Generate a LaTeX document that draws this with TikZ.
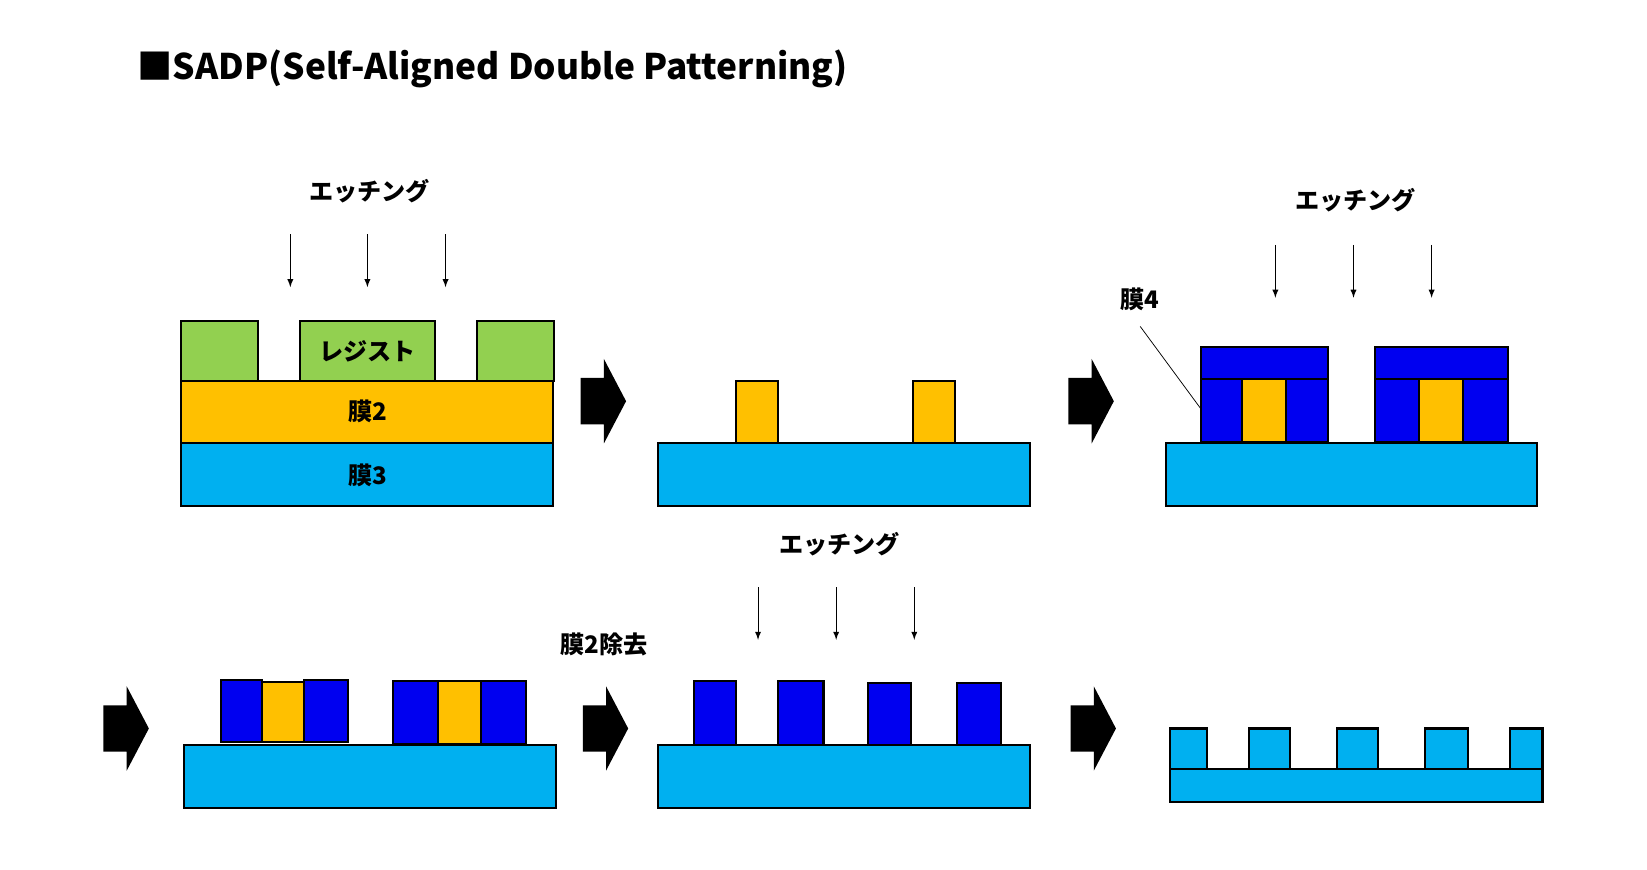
\documentclass[tikz,border=0pt]{standalone}
\usepackage{fontspec}
\setmainfont{Noto Sans CJK JP}
\usetikzlibrary{calc}
\definecolor{resist}{HTML}{92D050}
\definecolor{film2}{HTML}{FFC000}
\definecolor{film3}{HTML}{00B0F0}
\definecolor{film4}{HTML}{0000F0}
\tikzset{
  blk/.style={draw=black,line width=1.1pt},
  lbl/.style={font=\bfseries\fontsize{13}{15}\selectfont,inner sep=0pt},
  etch/.style={-latex,line width=0.5pt},
  bigarrow/.style={fill=black}
}
\newcommand{\bigarr}[2]{
  \fill[bigarrow] (#1,#2-22) -- ++(22,0) -- ++(0,-18) -- ++(21,40) -- ++(-21,40) -- ++(0,-18) -- ++(-22,0) -- cycle;
}
\newcommand{\etcharrows}[5]{
  \foreach \x in {#1,#2,#3} {
    \draw[etch] (\x,#4) -- (\x,#5);
  }
}
\begin{document}
\begin{tikzpicture}[x=0.2mm,y=-0.2mm]
  \useasboundingbox (0,0) rectangle (1560,824);
  \node[anchor=west,font=\bfseries\fontsize{19}{22}\selectfont,inner sep=0pt] (title) at (130,65) {■SADP(Self-Aligned Double Patterning)};

  % step 1
  \node[lbl] (etch1) at (350,181) {エッチング};
  \etcharrows{275}{348}{422}{222}{272}
  \draw[blk,fill=resist] (171,304) rectangle (244,361);
  \draw[blk,fill=resist] (284,304) rectangle (412,361);
  \draw[blk,fill=resist] (452,304) rectangle (525,361);
  \node[lbl] (res) at (348,333) {レジスト};
  \draw[blk,fill=film2] (171,361) rectangle (524,420);
  \node[lbl] (f2) at (348,390) {膜2};
  \draw[blk,fill=film3] (171,420) rectangle (524,479);
  \node[lbl] (f3) at (348,450) {膜3};

  \bigarr{550}{380}

  % step 2
  \draw[blk,fill=film3] (623,420) rectangle (976,479);
  \draw[blk,fill=film2] (697,361) rectangle (737,420);
  \draw[blk,fill=film2] (865,361) rectangle (905,420);

  \bigarr{1012}{380}

  % step 3
  \node[lbl] (etch2) at (1284,190) {エッチング};
  \etcharrows{1208}{1282}{1356}{232}{282}
  \draw[blk,fill=film3] (1104,420) rectangle (1456,479);
  \foreach \a/\b/\c/\d in {1138/1176/1218/1258,1302/1344/1386/1428} {
    \draw[blk,fill=film4] (\a,329) rectangle (\d,359);
    \draw[blk,fill=film4] (\a,359) rectangle (\b,419);
    \draw[blk,fill=film2] (\b,359) rectangle (\c,419);
    \draw[blk,fill=film4] (\c,359) rectangle (\d,419);
  }
  \node[lbl] (f4) at (1080,284) {膜4};
  \coordinate (f4end) at (1138,388);
  \draw[line width=0.4pt] (f4.south) ++(0,14) -- (f4end);

  % step 4
  \bigarr{98}{690}
  \draw[blk,fill=film3] (174,706) rectangle (527,765);
  \draw[blk,fill=film4] (209,644) rectangle (248,703);
  \draw[blk,fill=film2] (248,646) rectangle (288,703);
  \draw[blk,fill=film4] (288,644) rectangle (330,703);
  \draw[blk,fill=film4] (372,645) rectangle (415,705);
  \draw[blk,fill=film2] (415,645) rectangle (456,705);
  \draw[blk,fill=film4] (456,645) rectangle (498,705);

  \bigarr{552}{690}
  \node[lbl] (rm) at (572,610) {膜2除去};

  % step 5
  \node[lbl] (etch3) at (795,515) {エッチング};
  \etcharrows{718}{792}{866}{556}{606}
  \draw[blk,fill=film3] (623,706) rectangle (976,765);
  \foreach \a/\b/\t in {657/697/645,737/780/645,822/863/647,906/948/647} {
    \draw[blk,fill=film4] (\a,\t) rectangle (\b,706);
  }

  \bigarr{1014}{690}

  % step 6
  \draw[blk,fill=film3] (1108,728) rectangle (1461,760);
  \foreach \a/\b in {1108/1143,1183/1222,1266/1305,1350/1390,1430/1461} {
    \draw[blk,fill=film3] (\a,690) rectangle (\b,728);
  }
\end{tikzpicture}
\end{document}
